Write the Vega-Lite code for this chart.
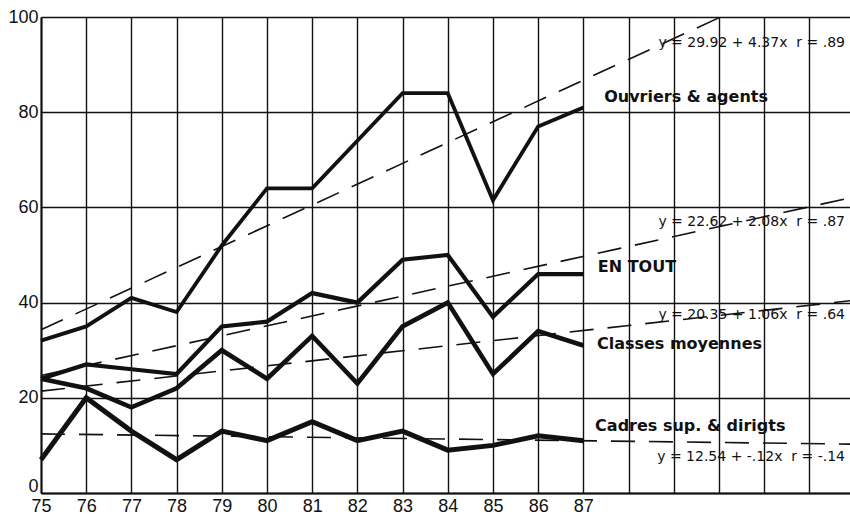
{
  "$schema": "https://vega.github.io/schema/vega-lite/v6.json",
  "width": 809,
  "height": 476,
  "autosize": {"type": "none"},
  "padding": {"left": 41, "top": 17, "right": 0, "bottom": 24},
  "background": "white",
  "config": {
    "view": {"stroke": null},
    "axis": {
      "domainColor": "#111",
      "domainWidth": 2,
      "gridColor": "#111",
      "gridWidth": 1.4,
      "gridOpacity": 1,
      "ticks": false,
      "labelFont": "Liberation Sans",
      "labelFontSize": 18,
      "labelColor": "#111",
      "title": null
    }
  },
  "datasets": {
    "series": [
      {"serie": "Ouvriers & agents", "annee": 75, "valeur": 32},
      {"serie": "Ouvriers & agents", "annee": 76, "valeur": 35},
      {"serie": "Ouvriers & agents", "annee": 77, "valeur": 41},
      {"serie": "Ouvriers & agents", "annee": 78, "valeur": 38},
      {"serie": "Ouvriers & agents", "annee": 79, "valeur": 52},
      {"serie": "Ouvriers & agents", "annee": 80, "valeur": 64},
      {"serie": "Ouvriers & agents", "annee": 81, "valeur": 64},
      {"serie": "Ouvriers & agents", "annee": 82, "valeur": 74},
      {"serie": "Ouvriers & agents", "annee": 83, "valeur": 84},
      {"serie": "Ouvriers & agents", "annee": 84, "valeur": 84},
      {"serie": "Ouvriers & agents", "annee": 85, "valeur": 61.5},
      {"serie": "Ouvriers & agents", "annee": 86, "valeur": 77},
      {"serie": "Ouvriers & agents", "annee": 87, "valeur": 81},
      {"serie": "EN TOUT", "annee": 75, "valeur": 24},
      {"serie": "EN TOUT", "annee": 76, "valeur": 27},
      {"serie": "EN TOUT", "annee": 77, "valeur": 26},
      {"serie": "EN TOUT", "annee": 78, "valeur": 25},
      {"serie": "EN TOUT", "annee": 79, "valeur": 35},
      {"serie": "EN TOUT", "annee": 80, "valeur": 36},
      {"serie": "EN TOUT", "annee": 81, "valeur": 42},
      {"serie": "EN TOUT", "annee": 82, "valeur": 40},
      {"serie": "EN TOUT", "annee": 83, "valeur": 49},
      {"serie": "EN TOUT", "annee": 84, "valeur": 50},
      {"serie": "EN TOUT", "annee": 85, "valeur": 37},
      {"serie": "EN TOUT", "annee": 86, "valeur": 46},
      {"serie": "EN TOUT", "annee": 87, "valeur": 46},
      {"serie": "Classes moyennes", "annee": 75, "valeur": 24},
      {"serie": "Classes moyennes", "annee": 76, "valeur": 22},
      {"serie": "Classes moyennes", "annee": 77, "valeur": 18},
      {"serie": "Classes moyennes", "annee": 78, "valeur": 22},
      {"serie": "Classes moyennes", "annee": 79, "valeur": 30},
      {"serie": "Classes moyennes", "annee": 80, "valeur": 24},
      {"serie": "Classes moyennes", "annee": 81, "valeur": 33},
      {"serie": "Classes moyennes", "annee": 82, "valeur": 23},
      {"serie": "Classes moyennes", "annee": 83, "valeur": 35},
      {"serie": "Classes moyennes", "annee": 84, "valeur": 40},
      {"serie": "Classes moyennes", "annee": 85, "valeur": 25},
      {"serie": "Classes moyennes", "annee": 86, "valeur": 34},
      {"serie": "Classes moyennes", "annee": 87, "valeur": 31},
      {"serie": "Cadres sup. & dirigts", "annee": 75, "valeur": 7},
      {"serie": "Cadres sup. & dirigts", "annee": 76, "valeur": 20},
      {"serie": "Cadres sup. & dirigts", "annee": 77, "valeur": 13},
      {"serie": "Cadres sup. & dirigts", "annee": 78, "valeur": 7},
      {"serie": "Cadres sup. & dirigts", "annee": 79, "valeur": 13},
      {"serie": "Cadres sup. & dirigts", "annee": 80, "valeur": 11},
      {"serie": "Cadres sup. & dirigts", "annee": 81, "valeur": 15},
      {"serie": "Cadres sup. & dirigts", "annee": 82, "valeur": 11},
      {"serie": "Cadres sup. & dirigts", "annee": 83, "valeur": 13},
      {"serie": "Cadres sup. & dirigts", "annee": 84, "valeur": 9},
      {"serie": "Cadres sup. & dirigts", "annee": 85, "valeur": 10},
      {"serie": "Cadres sup. & dirigts", "annee": 86, "valeur": 12},
      {"serie": "Cadres sup. & dirigts", "annee": 87, "valeur": 11}
    ],
    "tendances": [
      {"serie": "Ouvriers & agents", "annee": 75, "valeur": 34.29},
      {"serie": "Ouvriers & agents", "annee": 90, "valeur": 99.84},
      {"serie": "EN TOUT", "annee": 75, "valeur": 24.7},
      {"serie": "EN TOUT", "annee": 92.9, "valeur": 62.0},
      {"serie": "Classes moyennes", "annee": 75, "valeur": 21.41},
      {"serie": "Classes moyennes", "annee": 92.9, "valeur": 40.38},
      {"serie": "Cadres sup. & dirigts", "annee": 75, "valeur": 12.42},
      {"serie": "Cadres sup. & dirigts", "annee": 92.9, "valeur": 10.27}
    ],
    "noms": [
      {"texte": "Ouvriers & agents", "annee": 87.46, "valeur": 83.2},
      {"texte": "EN TOUT", "annee": 87.32, "valeur": 47.4},
      {"texte": "Classes moyennes", "annee": 87.3, "valeur": 31.2},
      {"texte": "Cadres sup. & dirigts", "annee": 87.26, "valeur": 14.1}
    ],
    "equations": [
      {"texte": "y = 29.92 + 4.37x\u00a0\u00a0r = .89", "annee": 92.79, "valeur": 94.6},
      {"texte": "y = 22.62 + 2.08x\u00a0\u00a0r = .87", "annee": 92.79, "valeur": 57.0},
      {"texte": "y = 20.35 + 1.06x\u00a0\u00a0r = .64", "annee": 92.79, "valeur": 37.3},
      {"texte": "y = 12.54 + -.12x\u00a0\u00a0r = -.14", "annee": 92.79, "valeur": 7.6}
    ]
  },
  "layer": [
    {
      "data": {"name": "tendances"},
      "mark": {"type": "line", "color": "#111", "strokeWidth": 1.6, "strokeDash": [24, 14]},
      "encoding": {
        "x": {
          "field": "annee", "type": "quantitative",
          "scale": {"domain": [75, 92.9], "nice": false, "zero": false},
          "axis": {
            "values": [75, 76, 77, 78, 79, 80, 81, 82, 83, 84, 85, 86, 87, 88, 89, 90, 91, 92],
            "labelExpr": "datum.value <= 87 ? format(datum.value, 'd') : ''",
            "labelPadding": 4,
            "labelFlush": false,
            "labelOverlap": false
          }
        },
        "y": {
          "field": "valeur", "type": "quantitative",
          "scale": {"domain": [0, 100], "nice": false},
          "axis": {
            "values": [0, 20, 40, 60, 80, 100],
            "labelPadding": 3,
            "labelFlush": false,
            "labelBaseline": {"condition": {"test": "datum.value == 0", "value": "alphabetic"}, "value": "middle"},
            "labelOffset": {"condition": {"test": "datum.value == 0", "value": -2}, "value": 0}
          }
        },
        "detail": {"field": "serie"}
      }
    },
    {
      "data": {"name": "series"},
      "mark": {"type": "line", "color": "#111", "strokeJoin": "miter", "strokeCap": "butt"},
      "encoding": {
        "x": {"field": "annee", "type": "quantitative"},
        "y": {"field": "valeur", "type": "quantitative"},
        "detail": {"field": "serie"},
        "strokeWidth": {
          "field": "serie",
          "scale": {
            "domain": ["Ouvriers & agents", "EN TOUT", "Classes moyennes", "Cadres sup. & dirigts"],
            "range": [3.8, 5, 3.8, 3.8]
          },
          "legend": null
        }
      }
    },
    {
      "data": {"name": "noms"},
      "mark": {"type": "text", "align": "left", "baseline": "middle", "font": "DejaVu Sans", "fontWeight": "bold", "fontSize": 16, "color": "#111"},
      "encoding": {
        "x": {"field": "annee", "type": "quantitative"},
        "y": {"field": "valeur", "type": "quantitative"},
        "text": {"field": "texte"}
      }
    },
    {
      "data": {"name": "equations"},
      "mark": {"type": "text", "align": "right", "baseline": "middle", "font": "DejaVu Sans", "fontSize": 14, "color": "#111"},
      "encoding": {
        "x": {"field": "annee", "type": "quantitative"},
        "y": {"field": "valeur", "type": "quantitative"},
        "text": {"field": "texte"}
      }
    }
  ]
}
